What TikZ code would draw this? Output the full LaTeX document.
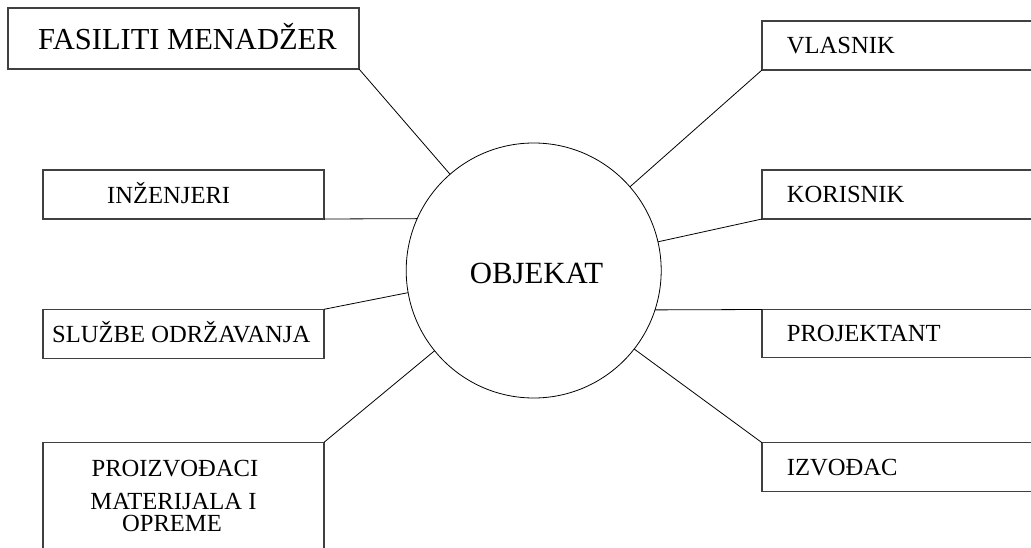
\documentclass[tikz,border=0pt]{standalone}
\usepackage{fontspec}
\setmainfont{Liberation Serif}
\begin{document}
\begin{tikzpicture}[x=1pt,y=-1pt,
  box/.style={draw=black!75, line width=1.1pt, rectangle, inner sep=0pt, outer sep=0pt, anchor=north west},
  lbl/.style={anchor=base west, inner sep=0pt, font=\fontsize{24.6}{29}\selectfont},
  biglbl/.style={anchor=base west, inner sep=0pt, font=\fontsize{30.5}{36}\selectfont},
  conn/.style={draw=black, line width=0.8pt}]
\useasboundingbox (0,0) rectangle (1031,548);
\clip (0,0) rectangle (1031,548);
% central circle
\node[draw, line width=0.8pt, circle, minimum size=255pt, inner sep=0pt, outer sep=0pt] (obj) at (533.7,270.5) {};
\node[anchor=base, inner sep=0pt, font=\fontsize{30.8}{36}\selectfont] (objt) at (536.5,283.3) {OBJEKAT};
% left boxes
\node[box, minimum width=351pt, minimum height=61pt] (fm) at (8,8) {};
\node[biglbl] (fmt) at (38,50) {FASILITI MENADŽER};
\node[box, minimum width=281pt, minimum height=49pt] (inz) at (43,170) {};
\node[lbl] (inzt) at (107,203.3) {INŽENJERI};
\node[box, minimum width=281pt, minimum height=49pt] (slu) at (43,309.3) {};
\node[lbl] (slut) at (52,342.7) {SLUŽBE ODRŽAVANJA};
\node[box, minimum width=281pt, minimum height=130pt] (pro) at (43,442.3) {};
\node[lbl, anchor=base] (prot1) at (175,476.7) {PROIZVOĐACI};
\node[lbl, anchor=base] (prot2) at (173.5,509.3) {MATERIJALA I};
\node[lbl, anchor=base] (prot3) at (172,531.7) {OPREME};
% right boxes
\node[box, minimum width=300pt, minimum height=49pt] (vla) at (762,21) {};
\node[lbl] (vlat) at (786.7,53.3) {VLASNIK};
\node[box, minimum width=300pt, minimum height=49pt] (kor) at (762,170) {};
\node[lbl] (kort) at (786.7,202.7) {KORISNIK};
\node[box, minimum width=300pt, minimum height=48pt] (prj) at (762,309.5) {};
\node[lbl] (prjt) at (786.7,341.7) {PROJEKTANT};
\node[box, minimum width=300pt, minimum height=49pt] (izv) at (762,442.7) {};
\node[lbl] (izvt) at (786.7,475) {IZVOĐAC};
% connectors
\draw[conn] (fm.south east) -- (obj.131);
\draw[conn] (inz.south east) -- (obj.156.2);
\draw[conn] (slu.north east) -- (obj.190.5);
\draw[conn] (pro.north east) -- (obj.219.2);
\draw[conn] (vla.south west) -- (obj.41.6);
\draw[conn] (kor.south west) -- (obj.13.3);
\draw[conn] (obj.342.2) -- (prj.north west);
\draw[conn] (izv.north west) -- (obj.322.5);
\end{tikzpicture}
\end{document}
